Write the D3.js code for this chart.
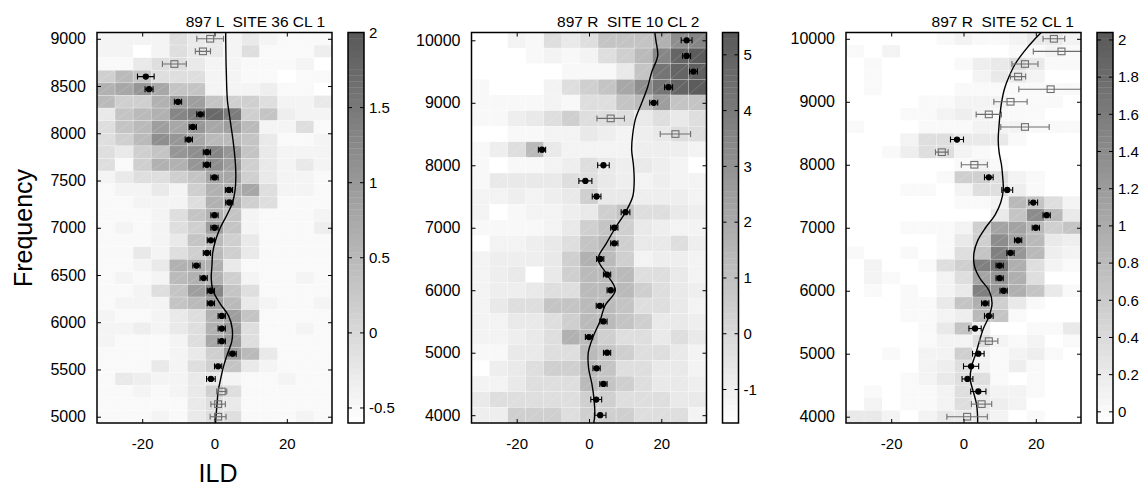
<!DOCTYPE html>
<html>
<head>
<meta charset="utf-8">
<script src="https://cdn.jsdelivr.net/npm/d3@7"></script>
<style>
  body { margin: 0; background: #fff; }
  text { font-family: "Liberation Sans", Arial, Helvetica, sans-serif; }
</style>
</head>
<body>
<div id="chart"></div>
<script>
// ---- data ----
var titles = ["897 L  SITE 36 CL 1", "897 R  SITE 10 CL 2", "897 R  SITE 52 CL 1"];
var ildBins = [-30, -25, -20, -15, -10, -5, 0, 5, 10, 15, 20, 25, 30];
var xTicks = [-20, 0, 20];

var freq1 = [9000,8867,8733,8600,8467,8333,8200,8067,7933,7800,7667,7533,7400,7267,7133,7000,6867,6733,6600,6467,6333,6200,6067,5933,5800,5667,5533,5400,5267,5133,5000];
var freq2 = [10000,9750,9500,9250,9000,8750,8500,8250,8000,7750,7500,7250,7000,6750,6500,6250,6000,5750,5500,5250,5000,4750,4500,4250,4000];
var freq3 = [10000,9800,9600,9400,9200,9000,8800,8600,8400,8200,8000,7800,7600,7400,7200,7000,6800,6600,6400,6200,6000,5800,5600,5400,5200,5000,4800,4600,4400,4200,4000];

var yTicks1 = [5000,5500,6000,6500,7000,7500,8000,8500,9000];
var yTicks2 = [4000,5000,6000,7000,8000,9000,10000];
var yTicks3 = [4000,5000,6000,7000,8000,9000,10000];

var cRange1 = [-0.6, 2.0], cTicks1 = [-0.5, 0, 0.5, 1, 1.5, 2];
var cRange2 = [-1.6, 5.4], cTicks2 = [-1, 0, 1, 2, 3, 4, 5];
var cRange3 = [-0.06, 2.04], cTicks3 = [0, 0.2, 0.4, 0.6, 0.8, 1, 1.2, 1.4, 1.6, 1.8, 2];

// heat maps: one row per frequency (top to bottom), one column per ILD bin
var heat1 = [
  [-0.42,-0.42,-0.42,-0.42,-0.08,-0.25,-0.25,-0.42,-0.25,-0.42,-0.5,-0.5,-0.5],
  [-0.42,-0.42,-0.6,-0.42,-0.08,-0.25,-0.25,-0.42,-0.08,-0.5,-0.5,-0.5,-0.33],
  [-0.5,-0.5,-0.25,-0.08,-0.08,-0.25,-0.42,-0.42,-0.5,-0.5,-0.5,-0.42,-0.6],
  [0.15,0.48,0.32,-0.08,-0.08,-0.08,-0.42,-0.42,-0.5,-0.5,-0.6,-0.5,-0.5],
  [0.62,0.78,1.05,0.78,0.32,0.32,-0.42,-0.42,-0.42,-0.33,-0.5,-0.5,-0.6],
  [0.48,0.15,0.15,0.62,0.92,0.92,0.32,0.15,0.15,-0.08,-0.42,-0.42,-0.25],
  [-0.25,0.32,0.48,0.62,1.3,1.45,1.75,1.45,0.15,0.32,-0.33,-0.42,-0.42],
  [-0.08,0.32,0.48,0.92,0.78,1.05,0.78,0.92,0.48,-0.42,-0.42,-0.08,-0.5],
  [-0.08,0.15,0.48,1.17,1.05,0.78,0.48,0.48,0.32,-0.25,-0.5,-0.5,-0.42],
  [-0.08,-0.25,0.15,0.32,1.05,1.17,1.3,1.05,0.32,-0.25,-0.42,-0.42,-0.42],
  [-0.08,-0.5,0.15,0.62,0.62,1.05,1.17,0.92,0.15,-0.25,-0.42,-0.25,-0.42],
  [-0.42,-0.25,-0.08,-0.08,0.15,0.32,0.78,0.78,0.15,-0.25,-0.42,-0.42,-0.5],
  [-0.5,-0.42,-0.42,-0.25,-0.42,0.15,0.62,0.62,0.78,-0.08,-0.42,-0.42,-0.5],
  [-0.5,-0.5,-0.42,-0.42,-0.42,-0.08,0.62,0.62,0.15,-0.08,-0.5,-0.5,-0.5],
  [-0.5,-0.5,-0.5,-0.42,-0.08,0.32,0.62,0.32,-0.42,-0.5,-0.5,-0.5,-0.42],
  [-0.5,-0.42,-0.5,-0.42,-0.08,0.15,0.92,0.32,-0.42,-0.5,-0.5,-0.5,-0.33],
  [-0.5,-0.5,-0.5,-0.42,-0.25,0.32,0.48,0.15,-0.25,-0.5,-0.5,-0.5,-0.5],
  [-0.5,-0.5,-0.25,-0.42,-0.08,0.15,0.48,0.15,-0.25,-0.5,-0.5,-0.5,-0.5],
  [-0.5,-0.5,-0.42,-0.25,0.62,0.62,0.62,-0.25,-0.5,-0.5,-0.5,-0.5,-0.5],
  [-0.5,-0.42,-0.5,-0.42,0.48,0.62,0.62,0.15,-0.42,-0.5,-0.5,-0.42,-0.5],
  [-0.5,-0.5,-0.42,-0.08,0.32,0.92,1.3,0.32,-0.08,-0.5,-0.5,-0.5,-0.5],
  [-0.5,-0.42,-0.42,-0.42,0.32,0.48,0.92,0.48,-0.25,-0.42,-0.5,-0.5,-0.42],
  [-0.42,-0.5,-0.5,-0.42,-0.25,-0.08,0.62,0.92,0.32,-0.5,-0.5,-0.5,-0.5],
  [-0.42,-0.42,-0.33,-0.42,-0.25,-0.08,0.62,0.92,-0.08,-0.5,-0.5,-0.42,-0.5],
  [-0.42,-0.5,-0.5,-0.5,-0.42,-0.08,0.78,0.92,-0.08,-0.5,-0.5,-0.5,-0.5],
  [-0.5,-0.5,-0.5,-0.5,-0.42,-0.25,0.15,0.92,0.48,-0.25,-0.5,-0.5,-0.5],
  [-0.5,-0.5,-0.5,-0.25,-0.42,-0.08,0.15,0.32,-0.25,-0.42,-0.5,-0.5,-0.5],
  [-0.5,-0.25,-0.33,-0.42,-0.42,-0.25,-0.25,-0.42,-0.5,-0.5,-0.42,-0.5,-0.5],
  [-0.5,-0.5,-0.42,-0.5,-0.42,-0.25,0.15,-0.08,-0.5,-0.5,-0.5,-0.5,-0.5],
  [-0.5,-0.5,-0.5,-0.5,-0.5,-0.25,-0.08,-0.25,-0.5,-0.5,-0.5,-0.5,-0.5],
  [-0.5,-0.5,-0.5,-0.42,-0.5,-0.25,-0.08,-0.08,-0.5,-0.5,-0.5,-0.42,-0.5]
];

var heat2 = [
  [-1.6,-1.6,-1.11,-1.32,-0.2,-0.66,-0.2,0.89,0.89,0.89,1.69,3.16,3.5],
  [-1.6,-1.6,-1.6,-1.32,-1.11,-1.32,-1.11,-0.2,0.43,1.3,3.5,4.9,5.26],
  [-1.6,-1.6,-1.6,-1.6,-1.6,-1.32,-1.32,-1.32,-0.66,0.89,4.2,4.9,5.1],
  [-1.32,-1.6,-1.6,-1.6,-1.11,-0.2,0.43,0.89,2.11,3.16,4.2,4.9,5.26],
  [-1.32,-1.32,-1.32,-1.32,-1.11,-1.32,-0.2,-0.2,0.89,1.3,2.5,0.89,0.89],
  [-1.32,-1.32,-0.88,-0.66,-0.2,0.43,-0.2,-0.2,-0.2,-0.66,-0.2,-0.66,-0.2],
  [-1.6,-1.6,-1.32,-1.32,-1.11,-1.11,-0.66,-0.88,-1.11,-0.88,-0.66,-0.2,-0.2],
  [-1.32,-0.88,-0.2,1.3,-0.66,-1.11,-1.11,-1.11,-1.11,-0.88,-0.88,-0.88,-1.11],
  [-1.32,-1.6,-1.32,-1.32,-1.11,-0.88,-0.2,-0.66,-0.88,-0.66,-0.88,-1.11,-1.6],
  [-1.32,-0.66,-0.66,-0.66,-0.66,-0.2,-0.2,-0.66,-0.88,-1.11,-0.88,-1.11,-1.11],
  [-1.11,-1.11,-0.88,-1.11,-0.88,-0.66,0.43,-0.66,-0.66,-0.88,-0.88,-0.88,-1.11],
  [-1.11,-1.6,-1.32,-1.11,-1.11,-0.88,-0.66,0.43,0.89,-0.2,-0.2,-0.66,-0.88],
  [-1.32,-1.32,-1.32,-1.32,-1.11,-0.66,0.43,0.89,0.43,-0.66,-0.88,-1.11,-1.11],
  [-1.6,-1.11,-1.11,-0.88,-0.66,-0.2,0.89,1.3,0.43,-0.66,-0.66,-0.2,-0.88],
  [-1.11,-0.88,-0.88,-0.88,-0.66,0.43,1.69,1.3,0.43,-1.11,-0.88,-0.88,-1.11],
  [-1.11,-0.88,-0.66,-1.6,-0.66,0.43,1.3,1.3,1.3,-0.2,-0.2,-0.66,-1.11],
  [-1.11,-0.88,-0.88,-0.66,-0.2,-0.2,1.3,1.3,1.3,0.43,-0.2,-0.66,-0.88],
  [-1.11,-0.66,-0.2,-0.2,0.89,0.89,1.3,1.3,0.89,-0.2,-0.2,-0.66,-1.11],
  [-1.11,-1.11,-0.66,-0.66,-0.2,0.43,1.3,1.3,0.89,0.43,-0.66,-0.66,-0.88],
  [-1.11,-1.11,-0.88,-0.66,-0.2,1.69,1.3,0.43,-0.2,-0.2,-0.66,-0.2,-0.66],
  [-1.32,-1.32,-0.66,-0.66,-0.2,-0.2,1.3,0.89,0.43,-0.2,-0.2,-0.66,-1.11],
  [-1.6,-0.88,-0.66,-0.2,0.43,0.43,1.3,0.89,-0.2,-0.2,-0.66,-0.66,-1.11],
  [-1.11,-1.11,-0.66,-0.2,-0.2,-0.2,1.3,0.89,0.43,-0.2,-0.66,-0.66,-0.88],
  [-0.66,-0.2,-0.2,-0.2,-0.2,-0.2,0.43,0.43,-0.2,-0.2,-0.2,-0.66,-0.66],
  [-0.88,-0.88,0.43,0.43,0.43,-0.2,0.43,0.43,0.43,-0.2,-0.2,-0.2,-1.11]
];

var heat3 = [
  [-0.06,-0.06,-0.06,-0.06,-0.06,0.02,0.09,0.02,0.02,0.09,0.22,0.22,0.09],
  [0.02,-0.06,0.09,-0.06,-0.06,-0.06,-0.06,-0.06,-0.06,0.02,0.02,0.09,0.02],
  [-0.06,0.02,-0.06,-0.06,-0.06,-0.06,0.02,0.16,0.22,0.36,0.22,0.02,0.02],
  [-0.06,0.02,-0.06,-0.06,-0.06,-0.06,-0.06,0.09,0.22,0.22,0.09,-0.06,-0.06],
  [-0.06,0.02,-0.06,-0.06,-0.06,-0.06,0.02,0.02,0.02,0.02,0.02,0.02,0.02],
  [-0.06,-0.06,-0.06,-0.06,0.02,0.02,0.09,0.09,0.09,0.02,0.02,0.02,-0.06],
  [-0.06,-0.06,-0.06,0.02,0.02,0.09,0.16,0.09,0.02,0.02,0.02,-0.06,-0.06],
  [0.02,-0.06,-0.06,-0.06,0.02,0.02,0.02,0.09,0.09,0.09,0.02,0.02,0.02],
  [-0.06,-0.06,-0.06,0.09,0.36,0.36,0.22,0.22,0.22,0.02,-0.06,-0.06,-0.06],
  [-0.06,-0.06,0.02,0.16,0.36,0.36,0.09,0.02,-0.06,-0.06,-0.06,-0.06,-0.06],
  [-0.06,-0.06,-0.06,-0.06,-0.06,-0.06,0.02,0.09,0.02,-0.06,-0.06,-0.06,-0.06],
  [-0.06,-0.06,-0.06,-0.06,-0.06,0.02,0.55,0.55,0.36,0.09,0.02,-0.06,-0.06],
  [-0.06,-0.06,-0.06,0.02,0.02,-0.06,0.09,0.36,0.36,0.16,0.02,-0.06,-0.06],
  [-0.06,-0.06,-0.06,-0.06,-0.06,-0.06,0.02,0.02,0.09,0.82,0.69,0.36,0.09],
  [-0.06,-0.06,-0.06,-0.06,-0.06,-0.06,-0.06,-0.06,0.22,0.69,1.4,0.82,0.22],
  [-0.06,-0.06,-0.06,0.02,0.02,0.02,0.09,0.55,1.1,1.1,0.82,0.55,0.69],
  [-0.06,-0.06,-0.06,-0.06,-0.06,0.02,0.22,0.55,1.4,1.1,0.82,0.22,0.16],
  [0.02,-0.06,-0.06,0.02,-0.06,0.02,0.36,0.69,1.55,1.25,0.82,0.16,0.09],
  [-0.06,0.09,-0.06,-0.06,0.02,0.36,0.55,1.55,1.7,0.95,0.36,0.09,0.02],
  [-0.06,0.09,0.02,-0.06,-0.06,0.09,0.36,1.1,1.25,0.95,0.36,-0.06,-0.06],
  [-0.06,0.02,-0.06,0.02,-0.06,0.09,0.22,1.55,1.25,0.95,0.69,0.22,0.02],
  [-0.06,-0.06,-0.06,0.02,0.02,0.22,0.69,0.95,0.55,0.22,0.02,-0.06,-0.06],
  [-0.06,-0.06,-0.06,0.02,0.02,0.09,0.16,0.82,0.69,0.02,-0.06,-0.06,-0.06],
  [-0.06,-0.06,-0.06,-0.06,0.02,0.22,0.69,0.16,-0.06,-0.06,0.02,0.02,0.22],
  [-0.06,-0.06,-0.06,-0.06,0.02,0.09,0.09,0.36,0.09,0.02,0.09,-0.06,0.02],
  [-0.06,-0.06,0.02,-0.06,0.09,0.09,0.55,0.09,0.02,0.09,0.16,0.02,-0.06],
  [-0.06,-0.06,-0.06,-0.06,0.09,0.16,0.36,0.09,0.02,0.16,0.02,-0.06,-0.06],
  [-0.06,-0.06,-0.06,0.02,0.09,0.22,0.36,0.36,0.02,-0.06,0.02,-0.06,-0.06],
  [-0.06,0.02,-0.06,0.02,0.02,0.09,0.36,0.22,0.09,0.09,0.02,-0.06,-0.06],
  [-0.06,0.09,-0.06,0.02,0.02,0.09,0.36,0.22,0.16,0.09,-0.06,-0.06,-0.06],
  [0.22,0.22,0.09,-0.06,0.09,0.22,0.22,0.22,0.09,-0.06,0.02,-0.06,-0.06]
];

// mean ILD per frequency, its error, and marker kind (1 = filled, 0 = open square)
var ild1 = [-1.2,-3.2,-11.1,-19.0,-18.1,-10.1,-3.9,-6.0,-7.1,-2.1,-2.1,0,4.0,4.1,0,0,-1.0,-2.1,-5.0,-3.0,-1.0,-1.0,2.0,2.0,2.0,5.0,1.0,-1.0,2.0,1.0,1.0];
var err1 = [3.7,2.1,3.3,2.3,1.1,1,1,1,1,1,1,1,1,1,1,1,1,1,1,1,1,1,1,1,1,1,1,1.2,1.4,2,2.2];
var filled1 = [0,0,0,1,1,1,1,1,1,1,1,1,1,1,1,1,1,1,1,1,1,1,1,1,1,1,1,1,0,0,0];

var ild2 = [27.0,27.0,28.9,22.0,17.9,6.0,23.9,-13.0,4.0,-1.0,2.1,10.1,7.0,7.0,3.1,5.0,6.0,3.0,4.0,0.0,5.0,2.1,4.0,2.0,3.1];
var err2 = [1.5,1.1,1.1,1.1,1.1,3.8,4.2,1,1.6,1.8,1.2,1.2,1,1,1,1,1,1,1,1,1,1,1,1.5,1.6];
var filled2 = [1,1,1,1,1,0,0,1,1,1,1,1,1,1,1,1,1,1,1,1,1,1,1,1,1];

var ild3 = [25.0,27.1,17.0,15.1,24.1,13.0,7.0,17.0,-1.8,-6.0,3.0,7.0,12.1,19.3,23.0,20.0,15.1,13.0,10.0,10.0,11.1,6.0,7.0,3.2,7.0,4.1,2.1,1.1,4.1,5.0,1.0];
var err3 = [3,7.8,3.6,2.1,8.8,4.6,3.5,6.7,1.8,1.75,3.6,1.2,1.5,1.2,1,1,1,1,1,1,1,1,1.2,1.7,2.5,1.6,2.1,1.5,2.1,2.8,5.6];
var filled3 = [0,0,0,0,0,0,0,0,1,0,0,1,1,1,1,1,1,1,1,1,1,1,1,1,0,1,1,1,1,0,0];

// smooth fit: value at the top edge, at each frequency, then at the bottom edge
var curve1 = [3.1, 3.1,3.15,3.2,3.3,3.4,3.6,4.1,4.6,5.1,5.5,5.8,5.9,5.7,5.0,3.4,1.6,0.3,-0.5,-0.7,-0.9,-0.4,1.5,3.9,4.9,4.8,3.6,2.5,1.7,1.0,0.7,0.4, 0.3];
var curve2 = [18.2, 18.5,19.0,17.4,16.2,14.6,12.9,12.1,11.8,12.3,12.5,12.1,10.1,7.3,4.8,2.5,5.0,7.3,4.4,3.0,1.1,-0.2,-0.1,0.8,1.4,1.6, 1.3];
var curve3 = [21.5, 19.8,16.8,14.3,12.6,11.3,10.55,10.1,9.8,9.6,9.85,10.5,10.85,11.0,10.3,8.7,6.1,3.95,2.9,3.0,4.5,7.1,7.9,7.1,5.5,4.4,3.4,2.25,1.85,2.7,3.6,3.9, 3.9];

// ---- layout ----
var W = 1144, H = 487;
var plotTop = 32.5, plotBottom = 423, plotW = 235;
var lefts = [97, 471.5, 846];

var panels = [
  {title: titles[0], freqs: freq1, heat: heat1, ild: ild1, err: err1, filled: filled1, curve: curve1, yTicks: yTicks1, cRange: cRange1, cTicks: cTicks1},
  {title: titles[1], freqs: freq2, heat: heat2, ild: ild2, err: err2, filled: filled2, curve: curve2, yTicks: yTicks2, cRange: cRange2, cTicks: cTicks2},
  {title: titles[2], freqs: freq3, heat: heat3, ild: ild3, err: err3, filled: filled3, curve: curve3, yTicks: yTicks3, cRange: cRange3, cTicks: cTicks3}
];

var svg = d3.select('#chart').append('svg')
    .attr('width', W)
    .attr('height', H);

var binW = ildBins[1] - ildBins[0];
var openGray = '#6e6e6e';
var plain = function(d) { return String(d); };   // hyphen minus like the original

panels.forEach(function(p, pi) {
  var left = lefts[pi];
  var step = Math.abs(p.freqs[0] - p.freqs[1]);
  var fMax = d3.max(p.freqs) + step / 2, fMin = d3.min(p.freqs) - step / 2;

  var x = d3.scaleLinear()
      .domain([d3.min(ildBins) - binW / 2, d3.max(ildBins) + binW / 2])
      .range([0, plotW]);
  var y = d3.scaleLinear()
      .domain([fMin, fMax])
      .range([plotBottom - plotTop, 0]);
  var color = d3.scaleLinear()
      .domain(p.cRange)
      .range(['#ffffff', '#595959'])
      .clamp(true);

  var g = svg.append('g')
      .attr('transform', 'translate(' + left + ',' + plotTop + ')');

  svg.append('clipPath').attr('id', 'clip' + pi)
    .append('rect')
      .attr('width', plotW)
      .attr('height', plotBottom - plotTop);

  // heat map cells
  var cells = [];
  p.heat.forEach(function(row, ri) {
    row.forEach(function(v, ci) {
      cells.push({f: p.freqs[ri], b: ildBins[ci], v: v});
    });
  });

  var cg = g.append('g');
  cg.selectAll('rect')
    .data(cells)
    .enter().append('rect')
      .attr('x', function(d) { return x(d.b - binW / 2); })
      .attr('y', function(d) { return y(d.f + step / 2); })
      .attr('width', x(binW) - x(0))
      .attr('height', y(fMax - step) - y(fMax))
      .attr('fill', function(d) { return color(d.v); })
      .attr('stroke', 'rgba(255,255,255,0.35)')
      .attr('stroke-width', 0.6);

  // faint diagonals left by the original renderer
  cg.selectAll('line')
    .data(cells)
    .enter().append('line')
      .attr('x1', function(d) { return x(d.b - binW / 2); })
      .attr('y1', function(d) { return y(d.f - step / 2); })
      .attr('x2', function(d) { return x(d.b + binW / 2); })
      .attr('y2', function(d) { return y(d.f + step / 2); })
      .attr('stroke', 'rgba(255,255,255,0.28)')
      .attr('stroke-width', 0.6);

  var inner = g.append('g').attr('clip-path', 'url(#clip' + pi + ')');

  // fitted curve
  var cf = [fMax].concat(p.freqs, [fMin]);
  var line = d3.line()
      .x(function(d) { return x(d); })
      .y(function(d, i) { return y(cf[i]); })
      .curve(d3.curveCatmullRom);
  inner.append('path')
      .attr('d', line(p.curve))
      .attr('fill', 'none')
      .attr('stroke', '#000')
      .attr('stroke-width', 1.4);

  // error bars + markers
  var pts = p.freqs.map(function(f, i) {
    return {f: f, v: p.ild[i], e: p.err[i], filled: p.filled[i]};
  });
  var pg = inner.selectAll('g.pt')
    .data(pts)
    .enter().append('g')
      .attr('class', 'pt')
      .attr('stroke', function(d) { return d.filled ? '#000' : openGray; })
      .attr('stroke-width', 1.1);

  pg.append('line')
      .attr('x1', function(d) { return x(d.v - d.e); })
      .attr('x2', function(d) { return x(d.v + d.e); })
      .attr('y1', function(d) { return y(d.f); })
      .attr('y2', function(d) { return y(d.f); });
  pg.append('line')
      .attr('x1', function(d) { return x(d.v - d.e); })
      .attr('x2', function(d) { return x(d.v - d.e); })
      .attr('y1', function(d) { return y(d.f) - 3; })
      .attr('y2', function(d) { return y(d.f) + 3; });
  pg.append('line')
      .attr('x1', function(d) { return x(d.v + d.e); })
      .attr('x2', function(d) { return x(d.v + d.e); })
      .attr('y1', function(d) { return y(d.f) - 3; })
      .attr('y2', function(d) { return y(d.f) + 3; });

  pg.filter(function(d) { return d.filled; })
    .append('circle')
      .attr('cx', function(d) { return x(d.v); })
      .attr('cy', function(d) { return y(d.f); })
      .attr('r', 2.6)
      .attr('fill', '#000');
  pg.filter(function(d) { return !d.filled; })
    .append('rect')
      .attr('x', function(d) { return x(d.v) - 3.5; })
      .attr('y', function(d) { return y(d.f) - 3.3; })
      .attr('width', 7)
      .attr('height', 6.6)
      .attr('fill', 'none');

  // axes (ticks point inward on all four sides)
  var ax = g.append('g')
      .call(d3.axisLeft(y).tickValues(p.yTicks).tickSizeInner(-4).tickSizeOuter(0).tickPadding(11).tickFormat(plain));
  var ax2 = g.append('g')
      .attr('transform', 'translate(' + plotW + ',0)')
      .call(d3.axisRight(y).tickValues(p.yTicks).tickSizeInner(-4).tickSizeOuter(0).tickFormat(''));
  var ax3 = g.append('g')
      .attr('transform', 'translate(0,' + (plotBottom - plotTop) + ')')
      .call(d3.axisBottom(x).tickValues(xTicks).tickSizeInner(-4).tickSizeOuter(0).tickPadding(15).tickFormat(plain));
  var ax4 = g.append('g')
      .call(d3.axisTop(x).tickValues(xTicks).tickSizeInner(-4).tickSizeOuter(0).tickFormat(''));
  [ax, ax2, ax3, ax4].forEach(function(a) {
    a.select('.domain').remove();
    a.attr('font-family', null).attr('font-size', 15);
    a.selectAll('line').attr('stroke', '#000').attr('stroke-width', 1);
    a.selectAll('text').attr('fill', '#000');
  });
  ax.attr('font-size', 16);

  g.append('rect')
      .attr('width', plotW)
      .attr('height', plotBottom - plotTop)
      .attr('fill', 'none')
      .attr('stroke', '#000')
      .attr('stroke-width', 1.5);

  g.append('text')
      .attr('x', plotW - 7)
      .attr('y', -5.5)
      .attr('text-anchor', 'end')
      .attr('font-size', 15.5)
      .style('white-space', 'pre')
      .text(p.title);

  // colour bar
  var cbX = plotW + 16, cbW = 16;
  var cy = d3.scaleLinear().domain(p.cRange).range([plotBottom - plotTop, 0]);
  var nBand = 64;
  var bands = d3.range(nBand).map(function(i) {
    var a = p.cRange[0] + (p.cRange[1] - p.cRange[0]) * i / nBand;
    var b = p.cRange[0] + (p.cRange[1] - p.cRange[0]) * (i + 1) / nBand;
    return [a, b];
  });
  var cb = g.append('g').attr('transform', 'translate(' + cbX + ',0)');
  cb.selectAll('rect')
    .data(bands)
    .enter().append('rect')
      .attr('x', 0)
      .attr('width', cbW)
      .attr('y', function(d) { return cy(d[1]); })
      .attr('height', function(d) { return cy(d[0]) - cy(d[1]) + 0.3; })
      .attr('fill', function(d) { return color((d[0] + d[1]) / 2); });

  var ct = cb.selectAll('g.ct')
    .data(p.cTicks)
    .enter().append('g')
      .attr('class', 'ct')
      .attr('transform', function(d) { return 'translate(0,' + cy(d) + ')'; });
  ct.append('line').attr('x1', 0).attr('x2', 4).attr('stroke', '#000');
  ct.append('line').attr('x1', cbW - 4).attr('x2', cbW).attr('stroke', '#000');
  ct.append('text')
      .attr('x', cbW + 5)
      .attr('dy', '0.35em')
      .attr('font-size', 15)
      .text(plain);

  cb.append('rect')
      .attr('width', cbW)
      .attr('height', plotBottom - plotTop)
      .attr('fill', 'none')
      .attr('stroke', '#000')
      .attr('stroke-width', 1.5);
});

svg.append('text')
    .attr('transform', 'translate(32,228) rotate(-90)')
    .attr('text-anchor', 'middle')
    .attr('font-size', 25)
    .text('Frequency');

svg.append('text')
    .attr('x', 218)
    .attr('y', 482)
    .attr('text-anchor', 'middle')
    .attr('font-size', 25)
    .text('ILD');
</script>
</body>
</html>
